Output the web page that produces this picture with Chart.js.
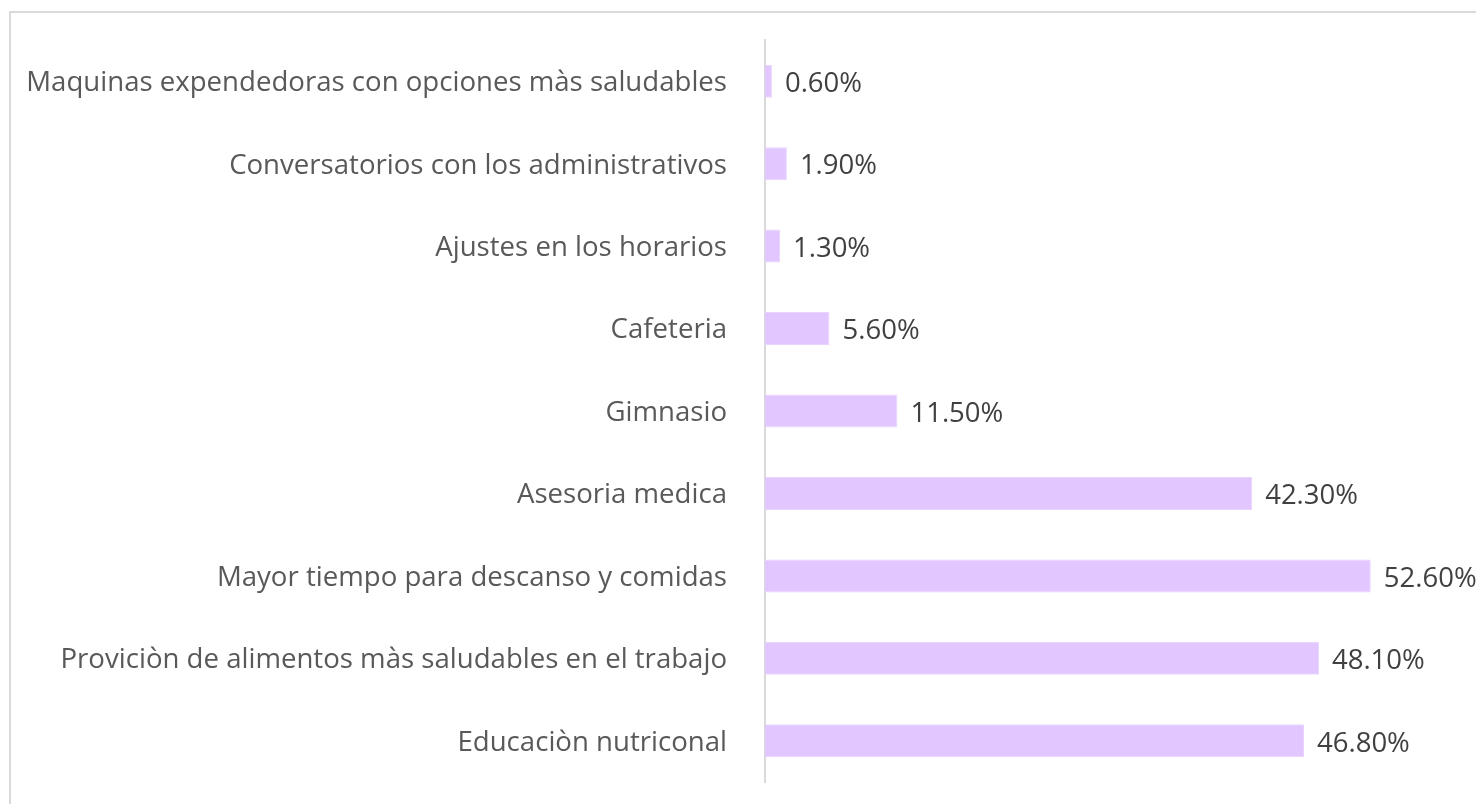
<!DOCTYPE html>
<html>
<head>
<meta charset="utf-8">
<script src="https://cdn.jsdelivr.net/npm/chart.js@4.4.0/dist/chart.umd.min.js"></script>
<style>
  html, body { margin: 0; padding: 0; background: #fff; overflow: hidden; }
  #wrap { position: relative; width: 1476px; height: 804px; }
  #frame { position: absolute; left: 9px; top: 11px; width: 1500px; height: 820px;
           border: 2px solid #d9d9d9; box-sizing: border-box; }
  canvas { position: absolute; left: 0; top: 0; }
</style>
</head>
<body>
<div id="wrap">
  <div id="frame"></div>
  <canvas id="barChart" width="1476" height="804"></canvas>
</div>
<script>
// categories, top to bottom
var categories = [
  "Maquinas expendedoras con opciones màs saludables",
  "Conversatorios con los administrativos",
  "Ajustes en los horarios",
  "Cafeteria",
  "Gimnasio",
  "Asesoria medica",
  "Mayor tiempo para descanso y comidas",
  "Proviciòn de alimentos màs saludables en el trabajo",
  "Educaciòn nutriconal"
];
// percentages
var values = [0.6, 1.9, 1.3, 5.6, 11.5, 42.3, 52.6, 48.1, 46.8];

var FONT = "'Open Sans', sans-serif";

// writes "xx.xx%" after the end of each bar
var valueLabels = {
  id: 'valueLabels',
  afterDatasetsDraw: function(chart) {
    var ctx = chart.ctx;
    var meta = chart.getDatasetMeta(0);
    ctx.save();
    ctx.font = "27.5px " + FONT;
    ctx.fillStyle = "#404040";
    ctx.textAlign = "left";
    ctx.textBaseline = "middle";
    meta.data.forEach(function(bar, i) {
      ctx.fillText(values[i].toFixed(2) + "%", bar.x + 13, bar.y + 3);
    });
    ctx.restore();
  }
};

var ctx = document.getElementById("barChart").getContext('2d');
new Chart(ctx, {
  type: 'bar',
  data: {
    labels: categories,
    datasets: [{
      data: values,
      backgroundColor: "#e2c6ff",
      borderColor: "#e8d4ff",
      borderWidth: 1,
      categoryPercentage: 0.8,
      barPercentage: 0.5
    }]
  },
  options: {
    indexAxis: 'y',
    responsive: false,
    animation: false,
    layout: { padding: { left: 0, right: 20, top: 40, bottom: 22 } },
    plugins: { legend: { display: false }, tooltip: { enabled: false } },
    scales: {
      x: { display: false, min: 0, max: 60 },
      y: {
        grid: { display: false },
        border: { display: true, color: "#d9d9d9", width: 2 },
        ticks: {
          color: "#595959",
          padding: 30,
          labelOffset: 2,
          font: { family: FONT, size: 27.6 }
        },
        afterFit: function(scale) {
          scale.width = 765;
          scale.paddingTop = 0;
          scale.paddingBottom = 0;
        }
      }
    }
  },
  plugins: [valueLabels]
});
</script>
</body>
</html>
